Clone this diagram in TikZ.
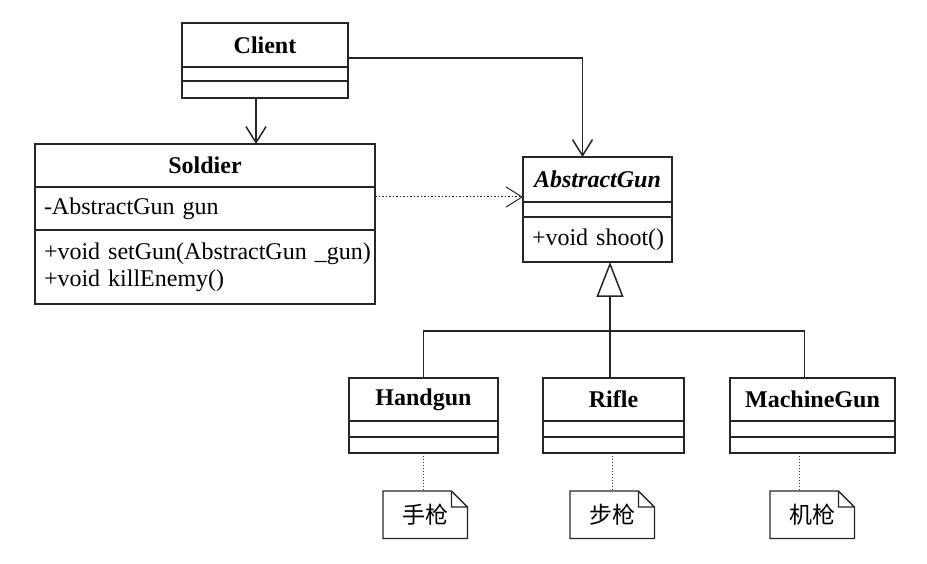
\documentclass[tikz,border=0pt]{standalone}
\usepackage{fontspec}
\setmainfont{Liberation Serif}
\newfontfamily\cjk{Noto Sans CJK SC}
\usetikzlibrary{arrows.meta, positioning, calc}
\newcommand{\umlfont}{\fontsize{24}{27}\selectfont}
\tikzset{
    part/.style={rectangle, draw=black!85, line width=1.4pt, inner xsep=9pt, inner ysep=0pt, outer sep=0pt, font=\umlfont},
    headpart/.style={part, anchor=north west, font=\umlfont\bfseries},
    leftpart/.style={part, align=left},
    notebox/.style={inner sep=0pt, anchor=north west, minimum width=84pt, minimum height=47pt, font=\cjk\fontsize{23}{26}\selectfont},
    arrow/.style={-{Straight Barb[length=16pt, width=20pt]}, line width=1.5pt, draw=black!85},
    dotarrow/.style={arrow, dotted, line width=1pt},
    inherit/.style={-{Triangle[open, length=35pt, width=27pt, fill=white]}, line width=1.5pt, draw=black!85},
    noteline/.style={dotted, line width=1pt, draw=black!80}
}

\begin{document}
\begin{tikzpicture}[x=1pt, y=-1pt]
    \useasboundingbox (0,0) rectangle (927,564);
    % client
    \node[headpart, minimum width=166pt, minimum height=44pt] (client) at (182,23) {Client};
    \node[part, minimum width=166pt, minimum height=14pt, below=0pt of client] (client-attr) {};
    \node[part, minimum width=166pt, minimum height=17pt, below=0pt of client-attr] (client-op) {};
    % soldier
    \node[headpart, minimum width=340pt, minimum height=43pt] (soldier) at (35,144) {Soldier};
    \node[leftpart, text width=322pt, minimum height=43pt, below=0pt of soldier] (soldier-attr) {-AbstractGun gun};
    \node[leftpart, text width=322pt, minimum height=74pt, below=0pt of soldier-attr] (soldier-op) {\mbox{+void setGun(AbstractGun \_gun)}\\+void killEnemy()};
    % abstract gun
    \node[headpart, minimum width=149pt, minimum height=45pt, font=\umlfont\bfseries\itshape] (abstract) at (523,157) {AbstractGun};
    \node[part, minimum width=149pt, minimum height=15pt, below=0pt of abstract] (abstract-attr) {};
    \node[leftpart, text width=131pt, minimum height=45pt, below=0pt of abstract-attr] (abstract-op) {\mbox{+void\hspace{8pt}shoot()}};
    % concrete guns
    \foreach \n/\x/\w/\lab in {handgun/349/149/Handgun, rifle/543/141/Rifle, machinegun/730/165/MachineGun} {
        \node[headpart, minimum width=\w pt, minimum height=43pt] (\n) at (\x,378) {\lab};
        \node[part, minimum width=\w pt, minimum height=16pt, below=0pt of \n] (\n-attr) {};
        \node[part, minimum width=\w pt, minimum height=16pt, below=0pt of \n-attr] (\n-op) {};
    }
    % notes
    \foreach \n/\x/\lab in {handgun/383/手枪, rifle/570/步枪, machinegun/770/机枪}
        \node[notebox] (\n-note) at (\x,491) {\lab};
    \foreach \n in {handgun-note, rifle-note, machinegun-note}
        \draw[line width=1.3pt, draw=black!85] (\n.north west) -- ([xshift=-16pt]\n.north east) -- ([yshift=-16pt]\n.north east) -- (\n.south east) -- (\n.south west) -- cycle
            ([xshift=-16pt]\n.north east) |- ([yshift=-16pt]\n.north east);
    \foreach \n/\s in {handgun/0, rifle/-1, machinegun/-13}
        \draw[noteline] ([xshift=\s pt]\n-op.south) coordinate (t) -- (t |- \n-note.north);

    \draw[arrow] ([xshift=-9pt]client-op.south) coordinate (c1) -- (c1 |- soldier.north);
    \draw[arrow] ($(client.north east)!0.47!(client-op.south east)$) -| ([xshift=-15pt]abstract.north);
    \draw[dotarrow] ([yshift=-10pt]soldier-attr.north east) coordinate (dep) -- (dep -| abstract.west);

    \coordinate (joint) at (610,331);
    \draw[line width=1.5pt, draw=black!85] (handgun.north) |- (joint) -| ([xshift=-8pt]machinegun.north);
    \draw[inherit] (rifle.north -| joint) -- (abstract-op.south -| joint);
\end{tikzpicture}
\end{document}
